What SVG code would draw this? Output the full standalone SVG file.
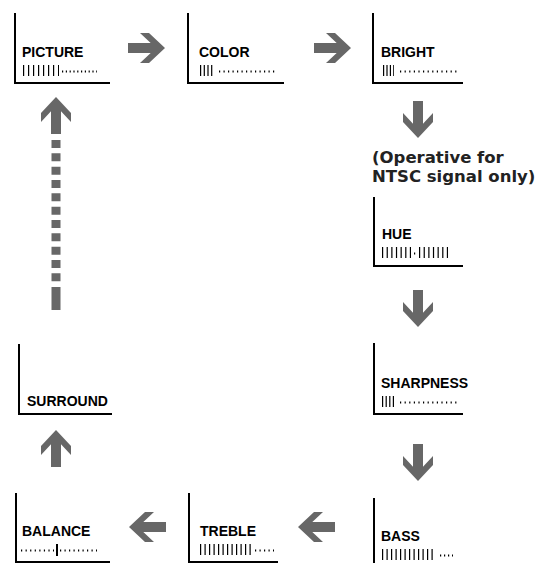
<svg xmlns="http://www.w3.org/2000/svg" width="536" height="563" viewBox="0 0 536 563">
<defs>
<path id="arr" d="M0,-5 H22.7 L12,-15 H21 L37,0 L21,15 H12 L22.7,5 H0 Z"/>
<style>
.frame{fill:none;stroke:#000;stroke-width:2}
.lbl{font-family:"Liberation Sans",Arial,sans-serif;font-weight:bold;font-size:14px;fill:#000}
.note{font-family:"DejaVu Sans",sans-serif;font-weight:bold;font-size:16.5px;fill:#222}
.bar{stroke:#000;stroke-width:11;fill:none}
.dot{stroke:#000;stroke-width:2;fill:none}
.arrow{fill:#676767}
</style>
</defs>
<rect width="536" height="563" fill="#fff"/>

<g id="connectors">
<use href="#arr" class="arrow" transform="translate(128,48)"/>
<use href="#arr" class="arrow" transform="translate(314,48)"/>
<use href="#arr" class="arrow" transform="translate(418,101) rotate(90)"/>
<use href="#arr" class="arrow" transform="translate(418,290) rotate(90)"/>
<use href="#arr" class="arrow" transform="translate(418,444) rotate(90)"/>
<use href="#arr" class="arrow" transform="translate(335,527) rotate(180)"/>
<use href="#arr" class="arrow" transform="translate(166,527) rotate(180)"/>
<use href="#arr" class="arrow" transform="translate(56,467) rotate(-90)"/>
<g id="dashed-return">
<use href="#arr" class="arrow" transform="translate(56,134) rotate(-90)"/>
<line x1="56" y1="140" x2="56" y2="282" stroke="#676767" stroke-width="9" stroke-dasharray="8 5.33"/>
<rect x="51.5" y="287" width="9" height="23" fill="#676767"/>
</g>
</g>

<g id="picture">
<path class="frame" d="M15,13 V83 H110"/>
<text class="lbl" x="22" y="57">PICTURE</text>
<line class="bar" x1="23" y1="70.5" x2="59" y2="70.5" stroke-width="11" stroke-dasharray="1.2 3.8"/>
<line class="dot" x1="62" y1="71.5" x2="97" y2="71.5" stroke-dasharray="1.2 2.6"/>
</g>

<g id="color">
<path class="frame" d="M188,13 V83 H284"/>
<text class="lbl" x="199" y="57">COLOR</text>
<line class="bar" x1="200" y1="70.5" x2="212.5" y2="70.5" stroke-dasharray="1.2 2.5"/>
<line class="dot" x1="219" y1="71.5" x2="275" y2="71.5" stroke-dasharray="1.2 3.3"/>
</g>

<g id="bright">
<path class="frame" d="M373,13 V83 H463"/>
<text class="lbl" x="381" y="57">BRIGHT</text>
<line class="bar" x1="383" y1="70.5" x2="394" y2="70.5" stroke-dasharray="1.2 2.2"/>
<line class="dot" x1="400" y1="71.5" x2="457" y2="71.5" stroke-dasharray="1.2 3.4"/>
</g>

<g id="note">
<text class="note" x="372" y="163">(Operative for</text>
<text class="note" x="372" y="182">NTSC signal only)</text>
</g>

<g id="hue">
<path class="frame" d="M374,197 V266 H463"/>
<text class="lbl" x="382" y="239">HUE</text>
<line class="bar" x1="382" y1="252.5" x2="411" y2="252.5" stroke-dasharray="1.2 3.44"/>
<line class="dot" x1="414" y1="253.5" x2="415.2" y2="253.5"/>
<line class="bar" x1="419" y1="252.5" x2="448" y2="252.5" stroke-dasharray="1.2 3.44"/>
</g>

<g id="sharpness">
<path class="frame" d="M374,343 V414 H463"/>
<text class="lbl" x="381" y="388">SHARPNESS</text>
<line class="bar" x1="382" y1="401.5" x2="394" y2="401.5" stroke-dasharray="1.2 2.4"/>
<line class="dot" x1="400" y1="402.5" x2="457" y2="402.5" stroke-dasharray="1.2 3.4"/>
</g>

<g id="bass">
<path class="frame" d="M374,498 V565"/>
<text class="lbl" x="381" y="541">BASS</text>
<line class="bar" x1="382" y1="554.5" x2="433" y2="554.5" stroke-dasharray="1.2 3.3"/>
<line class="dot" x1="440" y1="555.5" x2="453" y2="555.5" stroke-dasharray="1.2 2.8"/>
</g>

<g id="treble">
<path class="frame" d="M189,493 V562 H278"/>
<text class="lbl" x="200" y="536">TREBLE</text>
<line class="bar" x1="200" y1="549.5" x2="251" y2="549.5" stroke-dasharray="1.2 3.3"/>
<line class="dot" x1="255" y1="550.5" x2="274" y2="550.5" stroke-dasharray="1.2 3.3"/>
</g>

<g id="balance">
<path class="frame" d="M16,493 V562 H110"/>
<text class="lbl" x="22" y="536">BALANCE</text>
<line class="dot" x1="21" y1="550.5" x2="54" y2="550.5" stroke-dasharray="1.2 3.37"/>
<line x1="57" y1="544" x2="57" y2="556" stroke="#000" stroke-width="2"/>
<line class="dot" x1="60" y1="550.5" x2="97" y2="550.5" stroke-dasharray="1.2 3.3"/>
</g>

<g id="surround">
<path class="frame" d="M19,344 V414 H112"/>
<text class="lbl" x="27" y="406">SURROUND</text>
</g>
</svg>
